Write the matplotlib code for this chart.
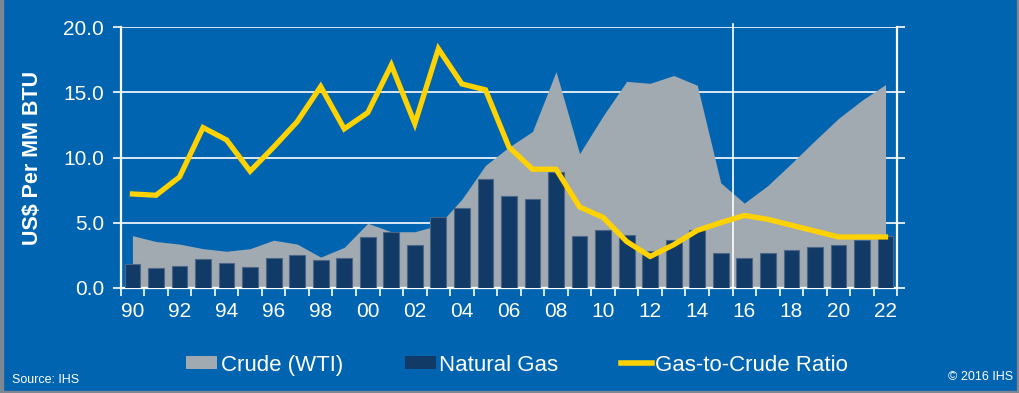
import numpy as np
import matplotlib
matplotlib.use("Agg")
import matplotlib.pyplot as plt
from matplotlib.patches import Patch, Rectangle
from matplotlib.lines import Line2D

plt.rcParams["font.family"] = ["Liberation Sans", "DejaVu Sans"]

# Values (US$ per MM BTU)
years = list(range(1990, 2023))
crude_wti = [4.0, 3.55, 3.35, 3.0, 2.8, 3.0, 3.65, 3.35, 2.35, 3.1,
             4.95, 4.3, 4.3, 4.8, 6.8, 9.4, 10.8, 12.0, 16.6, 10.3,
             13.2, 15.85, 15.7, 16.3, 15.55, 8.05, 6.5, 7.85, 9.55, 11.3,
             13.0, 14.4, 15.6]
natural_gas = [1.8, 1.5, 1.7, 2.2, 1.9, 1.6, 2.3, 2.5, 2.1, 2.3,
               3.9, 4.3, 3.25, 5.4, 6.1, 8.35, 7.05, 6.8, 8.9, 3.95,
               4.4, 4.05, 2.8, 3.65, 4.4, 2.7, 2.25, 2.65, 2.9, 3.1,
               3.3, 3.7, 3.95]
gas_to_crude = [7.2, 7.1, 8.5, 12.3, 11.35, 8.95, 10.8, 12.75, 15.45, 12.2,
                13.45, 17.1, 12.6, 18.35, 15.65, 15.2, 10.8, 9.1, 9.1, 6.2,
                5.4, 3.55, 2.4, 3.3, 4.4, 5.0, 5.55, 5.25, 4.8, 4.35,
                3.9, 3.9, 3.9]
tick_labels = [f"{y % 100:02d}" for y in years]

BG = "#0064B0"
GREY = "#A2AAB1"
NAVY = "#123A66"
YELLOW = "#FFD200"

fig = plt.figure(figsize=(10.2, 3.93), dpi=100, facecolor=BG)
ax = fig.add_axes([0.1183, 0.2679, 0.7614, 0.6626])
ax.set_facecolor(BG)

x = np.arange(len(years))
ax.fill_between(x, 0, crude_wti, color=GREY, lw=0, zorder=2)
ax.bar(x, natural_gas, width=0.67, color=NAVY, edgecolor="#4A6688",
       linewidth=0.8, zorder=3)
ax.plot(x, gas_to_crude, color=YELLOW, lw=3.8, solid_joinstyle="miter",
        zorder=5)

# forecast divider
ax.axvline(25.5, ymin=0, ymax=1.012, color="white", lw=1.2, zorder=4,
           clip_on=False)

ax.set_xlim(-0.5, len(years) - 0.5)
ax.set_ylim(0, 20)

# y axis
ax.set_yticks(np.arange(0, 20.1, 5))
ax.set_yticklabels([f"{v:.1f}" for v in np.arange(0, 20.1, 5)])
ax.yaxis.grid(True, color="white", lw=1.2, zorder=1)
ax.set_axisbelow(True)
ax.tick_params(axis="y", which="both", left=True, right=True, direction="out",
               length=6, width=1.2, color="white", labelcolor="white",
               labelsize=15, pad=6)

# x axis: ticks at category boundaries, labels every other year
ax.set_xticks(np.arange(-0.5, len(years), 1.0), minor=True)
ax.set_xticks(x[::2])
ax.set_xticklabels(tick_labels[::2])
ax.tick_params(axis="x", which="major", length=0, labelcolor="white",
               labelsize=15, pad=10)
ax.tick_params(axis="x", which="minor", length=6, width=1.2, color="white",
               direction="out")

for side in ["left", "right", "bottom"]:
    ax.spines[side].set_color("white")
    ax.spines[side].set_linewidth(1.6)
ax.spines["top"].set_visible(False)

ax.set_ylabel("US$ Per MM BTU", color="white", fontsize=15.5,
              fontweight="bold")
ax.yaxis.set_label_coords(-0.1, 0.5)

handles = [
    Patch(facecolor=GREY, edgecolor="none", label="Crude (WTI)"),
    Patch(facecolor=NAVY, edgecolor="none", label="Natural Gas"),
    Line2D([0], [0], color=YELLOW, lw=4, label="Gas-to-Crude Ratio"),
]
leg = fig.legend(handles=handles, loc="center", bbox_to_anchor=(0.507, 0.071),
                 ncol=3, frameon=False, fontsize=16, labelcolor="white",
                 handlelength=1.4, handleheight=0.55, handletextpad=0.15,
                 columnspacing=2.8)

fig.text(0.012, 0.033, "Source: IHS", color="white", fontsize=9,
         ha="left", va="center")
fig.text(0.993, 0.041, "\u00a9 2016 IHS", color="white", fontsize=9,
         ha="right", va="center")

# thin grey frame on left, right and bottom edges
frame = "#7D8794"
fig.patches.append(Rectangle((0, 0), 0.003, 1, transform=fig.transFigure,
                             color=frame, zorder=10))
fig.patches.append(Rectangle((0.997, 0), 0.003, 1, transform=fig.transFigure,
                             color=frame, zorder=10))
fig.patches.append(Rectangle((0, 0), 1, 0.006, transform=fig.transFigure,
                             color=frame, zorder=10))

fig.savefig("out.png", dpi=100, facecolor=BG)
